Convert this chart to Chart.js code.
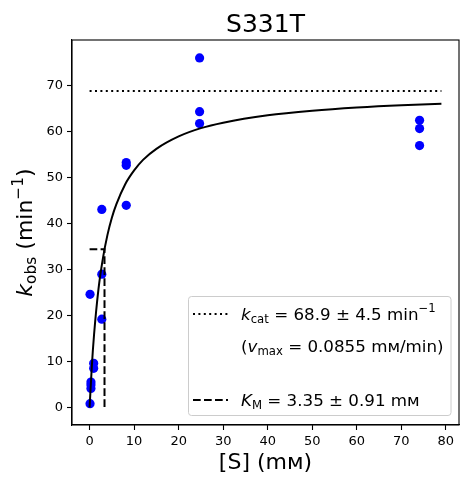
<!DOCTYPE html>
<html>
<head>
<meta charset="utf-8">
<script src="https://cdn.jsdelivr.net/npm/chart.js@4"></script>
<style>
html,body{margin:0;padding:0;background:#fff;}
#wrap{width:469px;height:484px;position:relative;}
</style>
</head>
<body>
<div id="wrap"><canvas id="c" width="469" height="484"></canvas></div>
<script>
// ---- data ----
const substrateConc = [0.1, 0.305, 0.305, 0.305, 0.914, 0.914, 0.1, 2.74, 2.74, 2.74, 8.23, 8.23, 8.23, 24.7, 24.7, 24.7, 74.1, 74.1, 74.1];
const kObs =          [0.8, 4.1,   4.9,   5.5,   8.5,   9.6,   24.6, 29.0, 19.2, 43.1, 44.0, 53.3, 52.7, 76.1, 64.4, 61.8, 62.5, 60.7, 57.0];
const fitX = [0, 0.5, 1, 2, 3, 4, 5, 6, 8, 10, 12, 15, 20, 25, 30, 40, 50, 60, 70, 79];
const fitY = [0, 8.9, 15.8, 25.8, 32.5, 37.5, 41.3, 44.2, 48.6, 51.6, 53.9, 56.3, 59.0, 60.8, 62.0, 63.6, 64.6, 65.3, 65.8, 66.1];
const kcat = 68.9;
const Km = 3.35;
const sRange = [0, 79];
const xTicks = [0, 10, 20, 30, 40, 50, 60, 70, 80];
const yTicks = [0, 10, 20, 30, 40, 50, 60, 70];
const titleText = "S331T";

const FONT = "'DejaVu Sans'";

function pts(xs, ys){ return xs.map((x,i)=>({x:x, y:ys[i]})); }

function fontFor(p, size){
  const s = (p.s === 'sub' || p.s === 'sup') ? size*0.7 : size;
  const it = p.i ? 'italic ' : '';
  return it + s.toFixed(2) + 'px ' + FONT;
}
function richWidth(ctx, parts, size){
  let w = 0;
  for (const p of parts){
    ctx.font = fontFor(p, size);
    w += ctx.measureText(p.t).width;
  }
  return w;
}
function drawRich(ctx, parts, x, y, size, align){
  let w = richWidth(ctx, parts, size);
  let cx = x;
  if (align === 'center') cx = x - w/2;
  ctx.textBaseline = 'alphabetic';
  ctx.textAlign = 'left';
  for (const p of parts){
    ctx.font = fontFor(p, size);
    let dy = 0;
    if (p.s === 'sub') dy = size*0.2;
    if (p.s === 'sup') dy = -size*0.42;
    ctx.fillText(p.t, cx, y + dy);
    cx += ctx.measureText(p.t).width;
  }
}

const decor = {
  id: 'decor',
  afterDraw(chart){
    const ctx = chart.ctx;
    const a = chart.chartArea;
    ctx.save();
    // frame
    ctx.strokeStyle = '#000';
    ctx.lineWidth = 1.1;
    ctx.strokeRect(a.left, a.top, a.right - a.left, a.bottom - a.top);
    ctx.fillStyle = '#000';
    // title
    ctx.font = '25px ' + FONT;
    ctx.textAlign = 'center';
    ctx.textBaseline = 'alphabetic';
    ctx.fillText(titleText, (a.left + a.right)/2, 31.5);
    // x label
    drawRich(ctx, [{t:'[S] (mᴍ)'}], (a.left + a.right)/2, 469, 22, 'center');
    // y label
    ctx.save();
    ctx.translate(32, (a.top + a.bottom)/2);
    ctx.rotate(-Math.PI/2);
    drawRich(ctx, [{t:'k', i:true},{t:'obs', s:'sub'},{t:' (min'},{t:'\u22121', s:'sup'},{t:')'}], 0, 0, 22, 'center');
    ctx.restore();
    // legend box
    const L = {x:188.5, y:296.5, w:262.5, h:119};
    ctx.beginPath();
    const r = 3;
    ctx.moveTo(L.x + r, L.y);
    ctx.arcTo(L.x+L.w, L.y, L.x+L.w, L.y+L.h, r);
    ctx.arcTo(L.x+L.w, L.y+L.h, L.x, L.y+L.h, r);
    ctx.arcTo(L.x, L.y+L.h, L.x, L.y, r);
    ctx.arcTo(L.x, L.y, L.x+L.w, L.y, r);
    ctx.closePath();
    ctx.fillStyle = 'rgba(255,255,255,0.8)';
    ctx.fill();
    ctx.strokeStyle = '#cccccc';
    ctx.lineWidth = 1;
    ctx.stroke();
    // legend samples
    ctx.strokeStyle = '#000';
    ctx.lineWidth = 2;
    ctx.setLineDash([2, 3.4]);
    ctx.beginPath(); ctx.moveTo(193, 314); ctx.lineTo(228, 314); ctx.stroke();
    ctx.setLineDash([7.7, 3.3]);
    ctx.beginPath(); ctx.moveTo(193, 400); ctx.lineTo(228, 400); ctx.stroke();
    ctx.setLineDash([]);
    ctx.fillStyle = '#000';
    const fs = 16.7;
    drawRich(ctx, [{t:'k', i:true},{t:'cat', s:'sub'},{t:' = 68.9 \u00b1 4.5 min'},{t:'\u22121', s:'sup'}], 241, 319.5, fs);
    drawRich(ctx, [{t:'('},{t:'v', i:true},{t:'max', s:'sub'},{t:' = 0.0855 mᴍ/min)'}], 241, 351.5, fs);
    drawRich(ctx, [{t:'K', i:true},{t:'M', s:'sub'},{t:' = 3.35 \u00b1 0.91 mᴍ'}], 241, 405.5, fs);
    ctx.restore();
  }
};

const ctx = document.getElementById('c').getContext('2d');
new Chart(ctx, {
  type: 'scatter',
  data: {
    datasets: [
      {
        label: 'data',
        data: pts(substrateConc, kObs),
        backgroundColor: '#0000ff',
        borderColor: '#0000ff',
        pointRadius: 4.6,
        pointBorderWidth: 0,
        showLine: false,
        order: 5
      },
      {
        label: 'fit',
        data: pts(fitX, fitY),
        showLine: true,
        borderColor: '#000',
        borderWidth: 2,
        pointRadius: 0,
        cubicInterpolationMode: 'monotone',
        order: 1
      },
      {
        label: 'kcat',
        data: [{x:sRange[0], y:kcat}, {x:sRange[1], y:kcat}],
        showLine: true,
        borderColor: '#000',
        borderWidth: 2,
        borderDash: [2, 3.4],
        pointRadius: 0,
        order: 2
      },
      {
        label: 'Km',
        data: [{x:sRange[0], y:kcat/2}, {x:Km, y:kcat/2}, {x:Km, y:0}],
        showLine: true,
        borderColor: '#000',
        borderWidth: 2,
        borderDash: [7.7, 3.3],
        pointRadius: 0,
        order: 3
      }
    ]
  },
  options: {
    responsive: false,
    animation: false,
    devicePixelRatio: 1,
    layout: { padding: { top: 40, right: 10, left: 0, bottom: 0 } },
    plugins: { legend: { display: false }, tooltip: { enabled: false }, title: { display: false } },
    scales: {
      x: {
        type: 'linear',
        min: -3.95,
        max: 82.95,
        afterBuildTicks(s){ s.ticks = xTicks.map(v => ({value: v})); },
        afterFit(s){ s.height = 59; },
        grid: { drawOnChartArea: false, drawTicks: true, tickLength: 5, color: '#000', tickWidth: 1.1 },
        border: { display: true, color: '#000', width: 1.1 },
        ticks: { color: '#000', font: { family: 'DejaVu Sans', size: 13 }, padding: 4, maxRotation: 0 }
      },
      y: {
        type: 'linear',
        min: -3.85,
        max: 80.0,
        afterBuildTicks(s){ s.ticks = yTicks.map(v => ({value: v})); },
        afterFit(s){ s.width = 72; },
        grid: { drawOnChartArea: false, drawTicks: true, tickLength: 5, color: '#000', tickWidth: 1.1 },
        border: { display: true, color: '#000', width: 1.1 },
        ticks: { color: '#000', font: { family: 'DejaVu Sans', size: 13 }, padding: 4 }
      }
    }
  },
  plugins: [decor]
});
</script>
</body>
</html>
